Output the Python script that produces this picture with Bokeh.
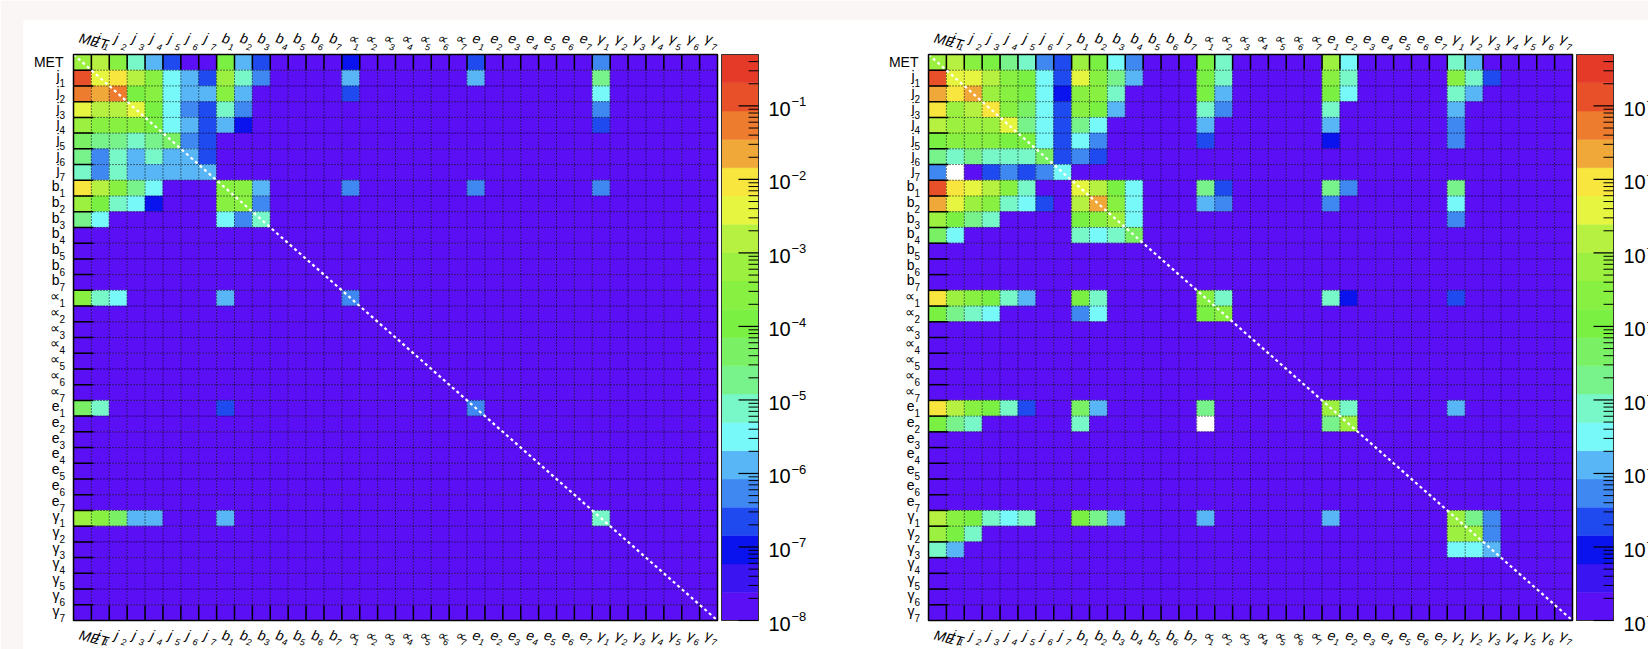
import math
from bokeh.plotting import figure
from bokeh.models import ColumnDataSource, Range1d
from bokeh.core.properties import value
from bokeh.embed import file_html
from bokeh.resources import INLINE

# ---------------------------------------------------------------- data
particle_main = ["MET"] + ["j"] * 7 + ["b"] * 7 + ["∝"] * 7 + ["e"] * 7 + ["γ"] * 7
particle_sub = [""] + ["1", "2", "3", "4", "5", "6", "7"] * 5

z_floor = 1e-8          # content of every cell that is not listed below
z_min = 1e-8
z_max = 0.5
n_contours = 20
cbar_exponents = [-8, -7, -6, -5, -4, -3, -2, -1]
cbar_text = ["10"] * 8
cbar_sup = ["−8", "−7", "−6", "−5", "−4", "−3", "−2", "−1"]

palette = ["#5b0ff5", "#3b14f2", "#0a12ee", "#1e4af0", "#3f88f2", "#58b6f7",
           "#78f9f9", "#78f7c8", "#78f28a", "#7af064", "#7af042", "#88f040",
           "#9cf040", "#b6f040", "#e6f640", "#f8e63e", "#f0a838", "#ee7c2e",
           "#e8502a", "#e63a28"]

# left matrix (non-floor cells)
left_row = [0, 0, 0, 0, 0, 0, 0, 0, 0, 0, 0, 0,
            1, 1, 1, 1, 1, 1, 1, 1, 1, 1, 1, 1, 1, 1,
            2, 2, 2, 2, 2, 2, 2, 2, 2, 2, 2, 2,
            3, 3, 3, 3, 3, 3, 3, 3, 3, 3, 3,
            4, 4, 4, 4, 4, 4, 4, 4, 4, 4, 4,
            5, 5, 5, 5, 5, 5, 5, 5,
            6, 6, 6, 6, 6, 6, 6, 6,
            7, 7, 7, 7, 7, 7, 7, 7,
            8, 8, 8, 8, 8, 8, 8, 8, 8, 8, 8,
            9, 9, 9, 9, 9, 9, 9, 9,
            10, 10, 10, 10, 10,
            15, 15, 15, 15, 15,
            22, 22, 22, 22,
            29, 29, 29, 29, 29, 29, 29]
left_col = [0, 1, 2, 3, 4, 5, 8, 9, 10, 15, 22, 29,
            0, 1, 2, 3, 4, 5, 6, 7, 8, 9, 10, 15, 22, 29,
            0, 1, 2, 3, 4, 5, 6, 7, 8, 9, 15, 29,
            0, 1, 2, 3, 4, 5, 6, 7, 8, 9, 29,
            0, 1, 2, 3, 4, 5, 6, 7, 8, 9, 29,
            0, 1, 2, 3, 4, 5, 6, 7,
            0, 1, 2, 3, 4, 5, 6, 7,
            0, 1, 2, 3, 4, 5, 6, 7,
            0, 1, 2, 3, 4, 8, 9, 10, 15, 22, 29,
            0, 1, 2, 3, 4, 8, 9, 10,
            0, 1, 8, 9, 10,
            0, 1, 2, 8, 15,
            0, 1, 8, 22,
            0, 1, 2, 3, 4, 8, 29]
left_val = [6.5e-4, 1.6e-3, 2.7e-4, 7.7e-6, 1.3e-6, 2.2e-7, 1.1e-4, 1.3e-6, 2.2e-7, 9e-8, 2.2e-7, 5.4e-7,
            0.13, 3.8e-3, 9.3e-3, 1.6e-3, 2.7e-4, 3.2e-6, 1.3e-6, 2.2e-7, 6.5e-4, 7.7e-6, 5.4e-7, 1.3e-6, 1.3e-6, 1.9e-5,
            5.5e-2, 2.2e-2, 5.5e-2, 1.1e-4, 2.7e-4, 3.2e-6, 1.3e-6, 1.3e-6, 2.7e-4, 1.3e-6, 2.2e-7, 3.2e-6,
            3.8e-3, 1.6e-3, 1.6e-3, 3.8e-3, 1.1e-4, 3.2e-6, 5.4e-7, 2.2e-7, 7.7e-6, 5.4e-7, 5.4e-7,
            6.5e-4, 2.7e-4, 2.7e-4, 2.7e-4, 1.1e-4, 3.2e-6, 1.3e-6, 2.2e-7, 1.3e-6, 9e-8, 2.2e-7,
            4.6e-5, 1.9e-5, 1.9e-5, 7.7e-6, 1.9e-5, 4.6e-5, 5.4e-7, 2.2e-7,
            1.9e-5, 5.4e-7, 7.7e-6, 1.3e-6, 7.7e-6, 1.3e-6, 1.3e-6, 2.2e-7,
            7.7e-6, 5.4e-7, 7.7e-6, 1.3e-6, 1.3e-6, 1.3e-6, 1.3e-6, 1.3e-6,
            9.3e-3, 1.6e-3, 2.7e-4, 1.9e-5, 3.2e-6, 2.7e-4, 2.7e-4, 1.3e-6, 5.4e-7, 5.4e-7, 5.4e-7,
            6.5e-4, 1.1e-4, 7.7e-6, 3.2e-6, 9e-8, 2.7e-4, 2.7e-4, 5.4e-7,
            1.9e-5, 3.2e-6, 3.2e-6, 5.4e-7, 7.7e-6,
            2.7e-4, 7.7e-6, 3.2e-6, 1.3e-6, 5.4e-7,
            4.6e-5, 7.7e-6, 2.2e-7, 5.4e-7,
            6.5e-4, 2.7e-4, 4.6e-5, 1.3e-6, 1.3e-6, 1.3e-6, 7.7e-6]

# right matrix (non-floor cells); nan = empty (white) cell
nan = float("nan")
right_row = [0, 0, 0, 0, 0, 0, 0, 0, 0, 0, 0, 0, 0, 0, 0, 0, 0, 0,
             1, 1, 1, 1, 1, 1, 1, 1, 1, 1, 1, 1, 1, 1, 1, 1, 1, 1, 1,
             2, 2, 2, 2, 2, 2, 2, 2, 2, 2, 2, 2, 2, 2, 2, 2, 2,
             3, 3, 3, 3, 3, 3, 3, 3, 3, 3, 3, 3, 3, 3, 3,
             4, 4, 4, 4, 4, 4, 4, 4, 4, 4, 4, 4, 4,
             5, 5, 5, 5, 5, 5, 5, 5, 5, 5, 5, 5, 5,
             6, 6, 6, 6, 6, 6, 6, 6, 6, 6,
             7, 7, 7, 7, 7, 7, 7,
             8, 8, 8, 8, 8, 8, 8, 8, 8, 8, 8, 8, 8, 8, 8,
             9, 9, 9, 9, 9, 9, 9, 9, 9, 9, 9, 9, 9, 9, 9,
             10, 10, 10, 10, 10, 10, 10, 10, 10,
             11, 11, 11, 11, 11, 11,
             15, 15, 15, 15, 15, 15, 15, 15, 15, 15, 15, 15, 15,
             16, 16, 16, 16, 16, 16, 16, 16,
             22, 22, 22, 22, 22, 22, 22, 22, 22, 22, 22, 22,
             23, 23, 23, 23, 23, 23, 23,
             29, 29, 29, 29, 29, 29, 29, 29, 29, 29, 29, 29, 29, 29,
             30, 30, 30, 30, 30, 30,
             31, 31, 31, 31, 31]
right_col = [0, 1, 2, 3, 4, 5, 6, 7, 8, 9, 10, 11, 15, 16, 22, 23, 29, 30,
             0, 1, 2, 3, 4, 5, 6, 7, 8, 9, 10, 11, 15, 16, 22, 23, 29, 30, 31,
             0, 1, 2, 3, 4, 5, 6, 7, 8, 9, 10, 15, 16, 22, 23, 29, 30,
             0, 1, 2, 3, 4, 5, 6, 7, 8, 9, 10, 15, 16, 22, 29,
             0, 1, 2, 3, 4, 5, 6, 7, 8, 9, 15, 22, 29,
             0, 1, 2, 3, 4, 5, 6, 7, 8, 9, 15, 22, 29,
             0, 1, 2, 3, 4, 5, 6, 7, 8, 9,
             0, 1, 3, 4, 5, 6, 7,
             0, 1, 2, 3, 4, 5, 8, 9, 10, 11, 15, 16, 22, 23, 29,
             0, 1, 2, 3, 4, 5, 6, 8, 9, 10, 11, 15, 16, 22, 29,
             0, 1, 2, 3, 8, 9, 10, 11, 29,
             0, 1, 8, 9, 10, 11,
             0, 1, 2, 3, 4, 5, 8, 9, 15, 16, 22, 23, 29,
             0, 1, 2, 3, 8, 9, 15, 16,
             0, 1, 2, 3, 4, 5, 8, 9, 15, 22, 23, 29,
             0, 1, 2, 8, 15, 22, 23,
             0, 1, 2, 3, 4, 5, 8, 9, 10, 15, 22, 29, 30, 31,
             0, 1, 2, 29, 30, 31,
             0, 1, 29, 30, 31]
right_val = [6.5e-4, 1.6e-3, 2.7e-4, 1.1e-4, 1.9e-5, 7.7e-6, 5.4e-7, 2.2e-7, 6.5e-4, 1.1e-4, 3.2e-6, 5.4e-7, 1.1e-4, 7.7e-6, 6.5e-4, 3.2e-6, 7.7e-6, 1.3e-6,
             0.13, 3.8e-3, 3.8e-3, 1.6e-3, 2.7e-4, 1.1e-4, 3.2e-6, 2.2e-7, 3.8e-3, 2.7e-4, 1.9e-5, 1.3e-6, 1.1e-4, 7.7e-6, 2.7e-4, 7.7e-6, 2.7e-4, 7.7e-6, 2.2e-7,
             2.2e-2, 9.3e-3, 2.2e-2, 6.5e-4, 2.7e-4, 1.1e-4, 3.2e-6, 9e-8, 2.7e-4, 2.7e-4, 7.7e-6, 1.1e-4, 1.3e-6, 1.1e-4, 3.2e-6, 7.7e-6, 1.3e-6,
             9.3e-3, 6.5e-4, 1.6e-3, 9.3e-3, 2.7e-4, 4.6e-5, 3.2e-6, 2.2e-7, 2.7e-4, 1.1e-4, 1.3e-6, 7.7e-6, 5.4e-7, 7.7e-6, 1.3e-6,
             1.6e-3, 6.5e-4, 6.5e-4, 6.5e-4, 3.8e-3, 1.9e-5, 3.2e-6, 2.2e-7, 1.9e-5, 3.2e-6, 1.3e-6, 1.3e-6, 5.4e-7,
             1.1e-4, 2.7e-4, 2.7e-4, 2.7e-4, 1.1e-4, 1.1e-4, 3.2e-6, 2.2e-7, 3.2e-6, 5.4e-7, 2.2e-7, 9e-8, 5.4e-7,
             1.9e-5, 7.7e-6, 1.9e-5, 7.7e-6, 7.7e-6, 7.7e-6, 4.6e-5, 2.2e-7, 5.4e-7, 2.2e-7,
             5.4e-7, nan, 2.2e-7, 5.4e-7, 2.2e-7, 5.4e-7, 3.2e-6,
             0.13, 9.3e-3, 3.8e-3, 1.6e-3, 2.7e-4, 7.7e-6, 3.8e-3, 1.6e-3, 1.1e-4, 3.2e-6, 1.9e-5, 2.2e-7, 1.9e-5, 5.4e-7, 1.9e-5,
             2.2e-2, 3.8e-3, 6.5e-4, 2.7e-4, 7.7e-6, 3.2e-6, 2.2e-7, 1.6e-3, 2.2e-2, 2.7e-4, 3.2e-6, 1.3e-6, 5.4e-7, 5.4e-7, 3.2e-6,
             6.5e-4, 1.1e-4, 1.9e-5, 7.7e-6, 1.1e-4, 2.7e-4, 6.5e-4, 3.2e-6, 5.4e-7,
             4.6e-5, 3.2e-6, 7.7e-6, 3.2e-6, 7.7e-6, 4.6e-5,
             9.3e-3, 6.5e-4, 2.7e-4, 1.1e-4, 7.7e-6, 1.3e-6, 1.1e-4, 7.7e-6, 2.7e-4, 7.7e-6, 7.7e-6, 9e-8, 2.2e-7,
             1.1e-4, 1.9e-5, 7.7e-6, 3.2e-6, 5.4e-7, 3.2e-6, 1.1e-4, 2.7e-4,
             9.3e-3, 1.6e-3, 2.7e-4, 1.1e-4, 7.7e-6, 2.2e-7, 4.6e-5, 1.3e-6, 1.9e-5, 6.5e-4, 7.7e-6, 1.3e-6,
             1.1e-4, 1.9e-5, 7.7e-6, 7.7e-6, nan, 1.9e-5, 6.5e-4,
             1.6e-3, 2.7e-4, 1.1e-4, 7.7e-6, 3.2e-6, 7.7e-6, 1.1e-4, 1.9e-5, 1.3e-6, 1.3e-6, 1.3e-6, 6.5e-4, 1.9e-5, 5.4e-7,
             6.5e-4, 1.1e-4, 7.7e-6, 6.5e-4, 6.5e-4, 5.4e-7,
             7.7e-6, 1.3e-6, 3.2e-6, 3.2e-6, 1.3e-6]

# ---------------------------------------------------------------- layout (pixels)
W, H = 1648, 649
PAD_L, PAD_T = 23, 20          # light margin round the white canvas
HM_TOP, HM_BOT = 54, 620       # heat-map frames, vertical extent
HM_W = 644
HM1_X0, HM2_X0 = 73, 928
CB_W = 37
CB1_X0, CB2_X0 = 721, 1576

N = len(particle_main)
LOG_LO = math.log10(z_min)
LOG_HI = math.log10(z_max)
STEP = (LOG_HI - LOG_LO) / n_contours
FONT = value("Liberation Sans")


def span(px0, px1, d0, d1, lo, hi):
    """Range whose data d0..d1 falls on pixels px0..px1 of a frame lo..hi."""
    k = (d1 - d0) / (px1 - px0)
    return Range1d(d0 + (lo - px0) * k, d0 + (hi - px0) * k)


def colour_of(v):
    if v != v:
        return "white"
    k = int(math.floor((math.log10(v) - LOG_LO) / STEP))
    return palette[max(0, min(n_contours - 1, k))]


p = figure(width=W, height=H,
           x_range=span(HM1_X0, HM1_X0 + HM_W, 0, N, PAD_L, W),
           y_range=span(HM_BOT, HM_TOP, N, 0, H, PAD_T),
           min_border_left=PAD_L, min_border_top=PAD_T, min_border_right=0, min_border_bottom=0,
           x_axis_location=None, y_axis_location=None, toolbar_location=None,
           output_backend="svg", title=None)
p.extra_x_ranges = {
    "hm2": span(HM2_X0, HM2_X0 + HM_W, 0, N, PAD_L, W),
    "cb1": span(CB1_X0, CB1_X0 + CB_W, 0, 1, PAD_L, W),
    "cb2": span(CB2_X0, CB2_X0 + CB_W, 0, 1, PAD_L, W),
}
p.extra_y_ranges = {"cb": span(HM_BOT, HM_TOP, LOG_LO, LOG_HI, H, PAD_T)}
p.outline_line_color = None
p.border_fill_color = "#faf6f6"
p.background_fill_color = "white"
p.grid.visible = False

CELL_W = HM_W / N
CELL_H = (HM_BOT - HM_TOP) / N


def heatmap(rows, cols, vals, xr):
    lookup = {(r, c): v for r, c, v in zip(rows, cols, vals)}
    data = dict(left=[], right=[], top=[], bottom=[], color=[])
    for r in range(N):
        for c in range(N):
            v = lookup.get((r, c), z_floor)
            data["left"].append(c)
            data["right"].append(c + 1)
            data["top"].append(r)
            data["bottom"].append(r + 1)
            data["color"].append(colour_of(v))
    p.quad(source=ColumnDataSource(data), left="left", right="right", top="top", bottom="bottom",
           fill_color="color", line_color="color", line_width=0.5, x_range_name=xr)

    bounds = list(range(1, N))
    nb = len(bounds)
    p.segment(x0=bounds, y0=[0] * nb, x1=bounds, y1=[N] * nb, line_color="black",
              line_width=1, line_dash="1 2", x_range_name=xr)
    p.segment(x0=[0] * nb, y0=bounds, x1=[N] * nb, y1=bounds, line_color="black",
              line_width=1, line_dash="1 2", x_range_name=xr)
    tx = 20 / CELL_W
    ty = 15 / CELL_H
    p.segment(x0=[0] * nb, y0=bounds, x1=[tx] * nb, y1=bounds, line_color="black",
              line_width=1.5, x_range_name=xr)
    p.segment(x0=bounds, y0=[0] * nb, x1=bounds, y1=[ty] * nb, line_color="black",
              line_width=1.5, x_range_name=xr)
    p.segment(x0=bounds, y0=[N] * nb, x1=bounds, y1=[N - ty] * nb, line_color="black",
              line_width=1.5, x_range_name=xr)
    p.line(x=[0, N], y=[0, N], line_color="white", line_width=2.2, line_dash="3 3",
           x_range_name=xr)
    p.quad(left=[0], right=[N], top=[0], bottom=[N], fill_color=None, line_color="black",
           line_width=1.5, x_range_name=xr)

    centres = [i + 0.5 for i in range(N)]
    has_sub = [i for i in range(N) if particle_sub[i]]
    ysrc = ColumnDataSource(dict(
        x=[0] * N, y=centres, main=particle_main,
        xo=[-10 if s == "" else -14 for s in particle_sub],
        yo=[0 if s == "" else -2 for s in particle_sub]))
    ysub = ColumnDataSource(dict(x=[0] * len(has_sub), y=[centres[i] for i in has_sub],
                                 sub=[particle_sub[i] for i in has_sub]))
    p.text(x="x", y="y", text="main", source=ysrc, x_offset="xo", y_offset="yo",
           text_align="right", text_baseline="middle", text_font=FONT,
           text_font_size=value("14px"), text_color="black", x_range_name=xr)
    p.text(x="x", y="y", text="sub", source=ysub, x_offset=-14, y_offset=5,
           text_align="left", text_baseline="middle", text_font=FONT,
           text_font_size=value("10px"), text_color="black", x_range_name=xr)
    for yy, off_main, off_sub in ((0, -17, -8), (N, 14, 21)):
        xsrc = ColumnDataSource(dict(x=centres, y=[yy] * N, main=particle_main))
        xsub = ColumnDataSource(dict(x=[centres[i] for i in has_sub], y=[yy] * len(has_sub),
                                     sub=[particle_sub[i] for i in has_sub]))
        p.text(x="x", y="y", text="main", source=xsrc, x_offset=-3, y_offset=off_main,
               angle=-0.25, text_align="left", text_baseline="middle", text_font=FONT,
               text_font_style="italic", text_font_size=value("14px"), text_color="black",
               x_range_name=xr)
        p.text(x="x", y="y", text="sub", source=xsub, x_offset=3, y_offset=off_sub,
               angle=-0.25, text_align="left", text_baseline="middle", text_font=FONT,
               text_font_style="italic", text_font_size=value("9px"), text_color="black",
               x_range_name=xr)


def colour_bar(xr):
    levels = [LOG_LO + i * STEP for i in range(n_contours + 1)]
    p.quad(left=[0] * n_contours, right=[1] * n_contours, bottom=levels[:-1], top=levels[1:],
           fill_color=palette, line_color=palette, line_width=0.5,
           x_range_name=xr, y_range_name="cb")
    p.quad(left=[0], right=[1], bottom=[LOG_LO], top=[LOG_HI], fill_color=None,
           line_color="#333333", line_width=1, x_range_name=xr, y_range_name="cb")
    major = cbar_exponents
    minor = [e + math.log10(m) for e in cbar_exponents for m in range(2, 10)
             if e + math.log10(m) < LOG_HI]
    p.segment(x0=[1 - 20 / CB_W] * len(major), y0=major, x1=[1] * len(major), y1=major,
              line_color="black", line_width=1.2, x_range_name=xr, y_range_name="cb")
    p.segment(x0=[1 - 10 / CB_W] * len(minor), y0=minor, x1=[1] * len(minor), y1=minor,
              line_color="black", line_width=1, x_range_name=xr, y_range_name="cb")
    src = ColumnDataSource(dict(x=[1] * len(major), y=major, t=cbar_text, s=cbar_sup))
    p.text(x="x", y="y", text="t", source=src, x_offset=10, y_offset=3,
           text_align="left", text_baseline="middle", text_font=FONT,
           text_font_size=value("20px"), text_color="black",
           x_range_name=xr, y_range_name="cb")
    p.text(x="x", y="y", text="s", source=src, x_offset=33, y_offset=-4,
           text_align="left", text_baseline="middle", text_font=FONT,
           text_font_size=value("13px"), text_color="black",
           x_range_name=xr, y_range_name="cb")


heatmap(left_row, left_col, left_val, "default")
heatmap(right_row, right_col, right_val, "hm2")
colour_bar("cb1")
colour_bar("cb2")

open("out.html", "w").write(file_html(p, INLINE))
